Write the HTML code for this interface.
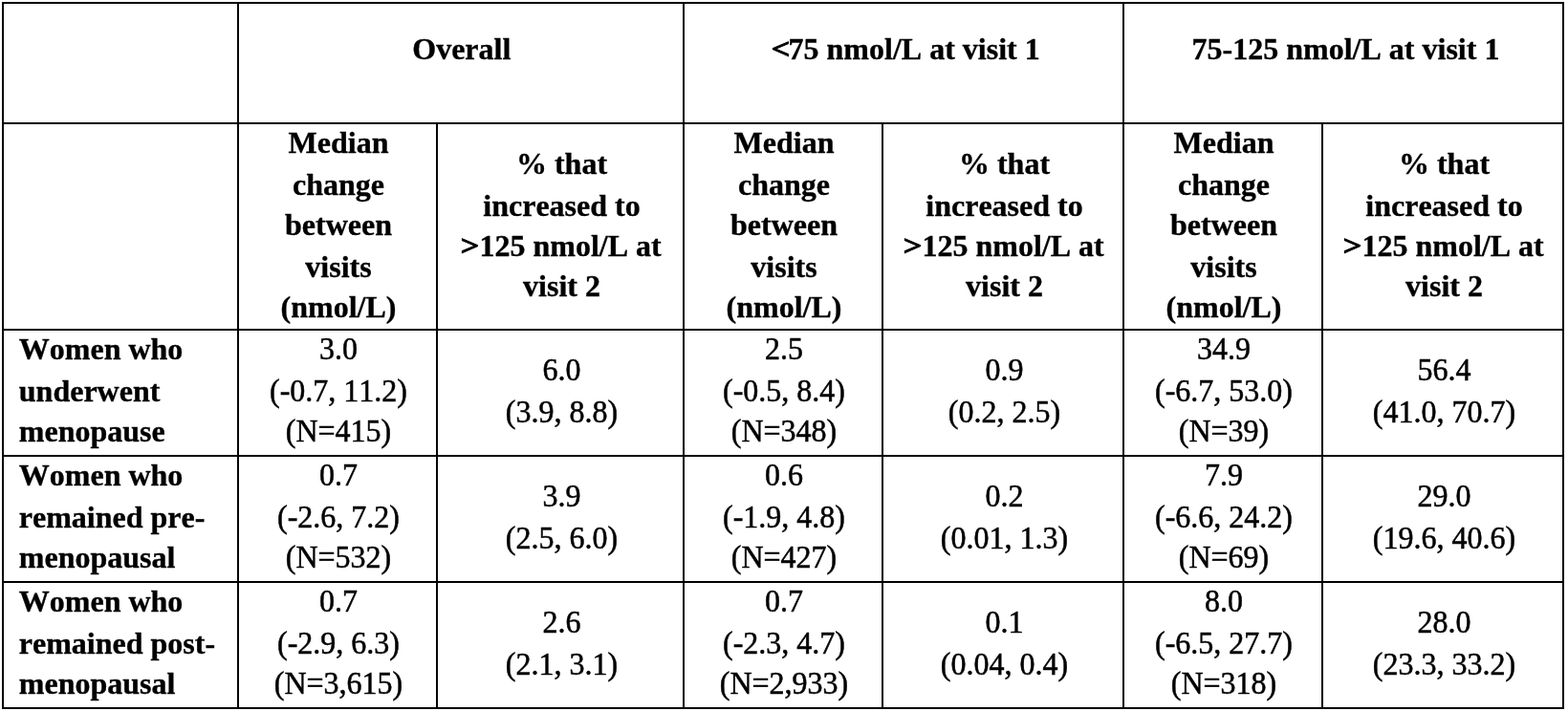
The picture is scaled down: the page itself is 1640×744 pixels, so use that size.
<!DOCTYPE html>
<html lang="en">
<head>
<meta charset="utf-8">
<title>Table</title>
<style>
html,body{margin:0;padding:0;background:#fff;}
body{width:1640px;height:744px;position:relative;overflow:hidden;
 font-family:"Liberation Serif",serif;font-size:32px;color:#000;font-kerning:none;font-variant-ligatures:none;-webkit-text-stroke:0.5px #000;}
.l{position:absolute;background:#000;}
.t{position:absolute;white-space:nowrap;line-height:44px;height:44px;text-align:center;}
.b{font-weight:bold;-webkit-text-stroke-width:0.35px;}
.lf{text-align:left;}
.g2{display:inline-block;-webkit-text-stroke-width:1.1px;transform:translate(0.15px,-0.3px) scale(1.07,0.92);transform-origin:100% 50%;}
.g{display:inline-block;-webkit-text-stroke-width:1.1px;transform:translate(0.7px,-0.6px) scale(1.07,0.92);transform-origin:0 50%;}
.r{transform:scaleY(1.025);transform-origin:0 33px;}
</style>
</head>
<body>
<div class="l" style="left:2px;top:2px;width:1634px;height:2px"></div>
<div class="l" style="left:2px;top:128px;width:1634px;height:2px"></div>
<div class="l" style="left:2px;top:344px;width:1634px;height:2px"></div>
<div class="l" style="left:2px;top:476px;width:1634px;height:2px"></div>
<div class="l" style="left:2px;top:608px;width:1634px;height:2px"></div>
<div class="l" style="left:2px;top:740px;width:1634px;height:2px"></div>
<div class="l" style="left:2px;top:2px;width:2px;height:740px"></div>
<div class="l" style="left:248px;top:2px;width:2px;height:740px"></div>
<div class="l" style="left:456px;top:128px;width:2px;height:614px"></div>
<div class="l" style="left:714px;top:2px;width:2px;height:740px"></div>
<div class="l" style="left:922px;top:128px;width:2px;height:614px"></div>
<div class="l" style="left:1174px;top:2px;width:2px;height:740px"></div>
<div class="l" style="left:1382px;top:128px;width:2px;height:614px"></div>
<div class="l" style="left:1634px;top:2px;width:2px;height:740px"></div>
<div class="t b" style="left:249.8px;width:466px;top:29px">Overall</div>
<div class="t b" style="left:717.0px;width:460px;top:29px"><span class="g">&lt;</span>75 nmol/L at visit 1</div>
<div class="t b" style="left:1177.5px;width:460px;top:29px">75-125 nmol/L at visit 1</div>
<div class="t b" style="left:250.0px;width:208px;top:127px">Median</div>
<div class="t b" style="left:250.0px;width:208px;top:171px">change</div>
<div class="t b" style="left:250.0px;width:208px;top:213px">between</div>
<div class="t b" style="left:250.0px;width:208px;top:257px">visits</div>
<div class="t b" style="left:250.0px;width:208px;top:299px">(nmol/L)</div>
<div class="t b" style="left:458.5px;width:258px;top:149px">% that</div>
<div class="t b" style="left:458.5px;width:258px;top:193px">increased to</div>
<div class="t b" style="left:458.5px;width:258px;top:235px"><span class="g2">&gt;</span>125 nmol/L at</div>
<div class="t b" style="left:458.5px;width:258px;top:277px">visit 2</div>
<div class="t b" style="left:716.0px;width:208px;top:127px">Median</div>
<div class="t b" style="left:716.0px;width:208px;top:171px">change</div>
<div class="t b" style="left:716.0px;width:208px;top:213px">between</div>
<div class="t b" style="left:716.0px;width:208px;top:257px">visits</div>
<div class="t b" style="left:716.0px;width:208px;top:299px">(nmol/L)</div>
<div class="t b" style="left:924.5px;width:252px;top:149px">% that</div>
<div class="t b" style="left:924.5px;width:252px;top:193px">increased to</div>
<div class="t b" style="left:924.5px;width:252px;top:235px"><span class="g2">&gt;</span>125 nmol/L at</div>
<div class="t b" style="left:924.5px;width:252px;top:277px">visit 2</div>
<div class="t b" style="left:1176.0px;width:208px;top:127px">Median</div>
<div class="t b" style="left:1176.0px;width:208px;top:171px">change</div>
<div class="t b" style="left:1176.0px;width:208px;top:213px">between</div>
<div class="t b" style="left:1176.0px;width:208px;top:257px">visits</div>
<div class="t b" style="left:1176.0px;width:208px;top:299px">(nmol/L)</div>
<div class="t b" style="left:1384.5px;width:252px;top:149px">% that</div>
<div class="t b" style="left:1384.5px;width:252px;top:193px">increased to</div>
<div class="t b" style="left:1384.5px;width:252px;top:235px"><span class="g2">&gt;</span>125 nmol/L at</div>
<div class="t b" style="left:1384.5px;width:252px;top:277px">visit 2</div>
<div class="t b lf" style="left:19.8px;top:343px">Women who</div>
<div class="t b lf" style="left:19.8px;top:387px">underwent</div>
<div class="t b lf" style="left:19.8px;top:429px">menopause</div>
<div class="t r" style="left:250.0px;width:208px;top:343px">3.0</div>
<div class="t r" style="left:250.0px;width:208px;top:387px">(-0.7, 11.2)</div>
<div class="t r" style="left:250.0px;width:208px;top:429px">(N=415)</div>
<div class="t r" style="left:458.5px;width:258px;top:365px">6.0</div>
<div class="t r" style="left:458.5px;width:258px;top:409px">(3.9, 8.8)</div>
<div class="t r" style="left:716.0px;width:208px;top:343px">2.5</div>
<div class="t r" style="left:716.0px;width:208px;top:387px">(-0.5, 8.4)</div>
<div class="t r" style="left:716.0px;width:208px;top:429px">(N=348)</div>
<div class="t r" style="left:924.5px;width:252px;top:365px">0.9</div>
<div class="t r" style="left:924.5px;width:252px;top:409px">(0.2, 2.5)</div>
<div class="t r" style="left:1176.0px;width:208px;top:343px">34.9</div>
<div class="t r" style="left:1176.0px;width:208px;top:387px">(-6.7, 53.0)</div>
<div class="t r" style="left:1176.0px;width:208px;top:429px">(N=39)</div>
<div class="t r" style="left:1384.5px;width:252px;top:365px">56.4</div>
<div class="t r" style="left:1384.5px;width:252px;top:409px">(41.0, 70.7)</div>
<div class="t b lf" style="left:19.8px;top:475px">Women who</div>
<div class="t b lf" style="left:19.8px;top:519px">remained pre-</div>
<div class="t b lf" style="left:19.8px;top:561px">menopausal</div>
<div class="t r" style="left:250.0px;width:208px;top:475px">0.7</div>
<div class="t r" style="left:250.0px;width:208px;top:519px">(-2.6, 7.2)</div>
<div class="t r" style="left:250.0px;width:208px;top:561px">(N=532)</div>
<div class="t r" style="left:458.5px;width:258px;top:497px">3.9</div>
<div class="t r" style="left:458.5px;width:258px;top:541px">(2.5, 6.0)</div>
<div class="t r" style="left:716.0px;width:208px;top:475px">0.6</div>
<div class="t r" style="left:716.0px;width:208px;top:519px">(-1.9, 4.8)</div>
<div class="t r" style="left:716.0px;width:208px;top:561px">(N=427)</div>
<div class="t r" style="left:924.5px;width:252px;top:497px">0.2</div>
<div class="t r" style="left:924.5px;width:252px;top:541px">(0.01, 1.3)</div>
<div class="t r" style="left:1176.0px;width:208px;top:475px">7.9</div>
<div class="t r" style="left:1176.0px;width:208px;top:519px">(-6.6, 24.2)</div>
<div class="t r" style="left:1176.0px;width:208px;top:561px">(N=69)</div>
<div class="t r" style="left:1384.5px;width:252px;top:497px">29.0</div>
<div class="t r" style="left:1384.5px;width:252px;top:541px">(19.6, 40.6)</div>
<div class="t b lf" style="left:19.8px;top:607px">Women who</div>
<div class="t b lf" style="left:19.8px;top:651px">remained post-</div>
<div class="t b lf" style="left:19.8px;top:693px">menopausal</div>
<div class="t r" style="left:250.0px;width:208px;top:607px">0.7</div>
<div class="t r" style="left:250.0px;width:208px;top:651px">(-2.9, 6.3)</div>
<div class="t r" style="left:250.0px;width:208px;top:693px">(N=3,615)</div>
<div class="t r" style="left:458.5px;width:258px;top:629px">2.6</div>
<div class="t r" style="left:458.5px;width:258px;top:673px">(2.1, 3.1)</div>
<div class="t r" style="left:716.0px;width:208px;top:607px">0.7</div>
<div class="t r" style="left:716.0px;width:208px;top:651px">(-2.3, 4.7)</div>
<div class="t r" style="left:716.0px;width:208px;top:693px">(N=2,933)</div>
<div class="t r" style="left:924.5px;width:252px;top:629px">0.1</div>
<div class="t r" style="left:924.5px;width:252px;top:673px">(0.04, 0.4)</div>
<div class="t r" style="left:1176.0px;width:208px;top:607px">8.0</div>
<div class="t r" style="left:1176.0px;width:208px;top:651px">(-6.5, 27.7)</div>
<div class="t r" style="left:1176.0px;width:208px;top:693px">(N=318)</div>
<div class="t r" style="left:1384.5px;width:252px;top:629px">28.0</div>
<div class="t r" style="left:1384.5px;width:252px;top:673px">(23.3, 33.2)</div>
</body>
</html>
